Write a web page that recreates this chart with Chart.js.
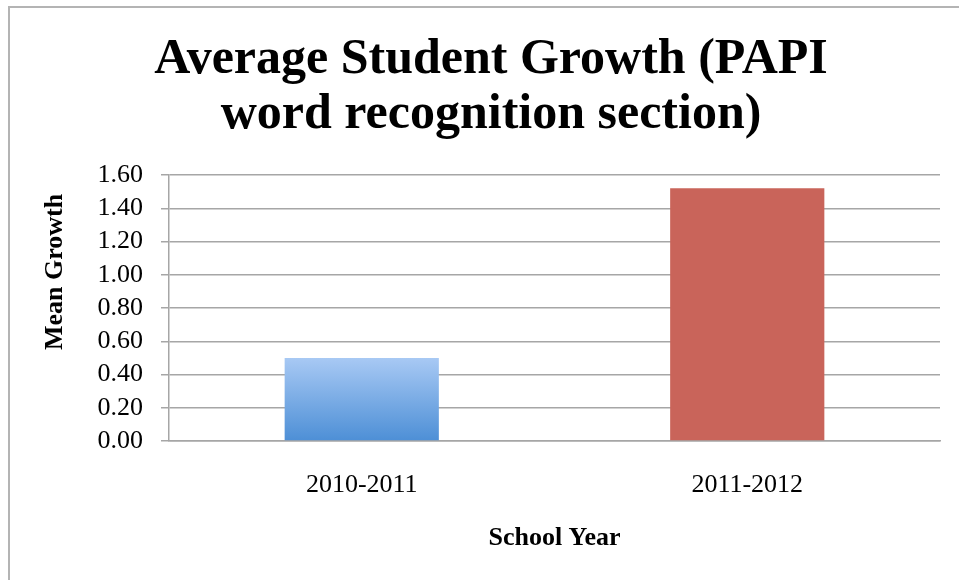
<!DOCTYPE html>
<html>
<head>
<meta charset="utf-8">
<script src="https://cdn.jsdelivr.net/npm/chart.js@4.4.1/dist/chart.umd.min.js"></script>
<style>
  html, body { margin: 0; padding: 0; background: #fff; overflow: hidden; }
  #wrap { position: relative; width: 959px; height: 580px; }
  #frame { position: absolute; left: 8px; top: 6px; width: 1000px; height: 600px;
           border-left: 2px solid #b4b4b4; border-top: 2px solid #b4b4b4; pointer-events: none; }
  canvas { position: absolute; left: 0; top: 0; }
</style>
</head>
<body>
<div id="wrap">
  <canvas id="c" width="959" height="580"></canvas>
  <div id="frame"></div>
</div>
<script>
const titleLines = ["Average Student Growth (PAPI", "word recognition section)"];
const categories = ["2010-2011", "2011-2012"];
const meanGrowth = [0.50, 1.52];
const yTickValues = [0.00, 0.20, 0.40, 0.60, 0.80, 1.00, 1.20, 1.40, 1.60];
const yAxisTitle = "Mean Growth";
const xAxisTitle = "School Year";

const SERIF = "'Liberation Serif', 'Times New Roman', serif";
const gridColor = '#a6a6a6';

function barColor(ctx) {
  const chart = ctx.chart;
  const area = chart.chartArea;
  if (ctx.dataIndex === 1) return '#c9645a';
  if (!area) return '#7fb0e8';
  const y = chart.scales.y;
  const top = y.getPixelForValue(meanGrowth[0]);
  const bottom = y.getPixelForValue(0);
  const g = chart.ctx.createLinearGradient(0, top, 0, bottom);
  g.addColorStop(0, '#a8c9f4');
  g.addColorStop(1, '#4d8fd6');
  return g;
}

// Draws the rotated y-axis title (real text) at the reference position
const yTitlePlugin = {
  id: 'yTitle',
  afterDraw(chart) {
    const c = chart.ctx;
    c.save();
    c.translate(55, 272);
    c.rotate(-Math.PI / 2);
    c.font = "bold 26px " + SERIF;
    c.fillStyle = '#000';
    c.textAlign = 'center';
    c.textBaseline = 'middle';
    c.fillText(yAxisTitle, 0, 0);
    c.restore();
  }
};

new Chart(document.getElementById('c'), {
  type: 'bar',
  data: {
    labels: categories,
    datasets: [{
      data: meanGrowth,
      backgroundColor: barColor,
      borderWidth: 0,
      categoryPercentage: 0.4,
      barPercentage: 1.0
    }]
  },
  plugins: [yTitlePlugin],
  options: {
    responsive: false,
    animation: false,
    devicePixelRatio: 1,
    layout: { padding: { left: 42, right: 19, top: 0, bottom: 0 } },
    plugins: {
      legend: { display: false },
      tooltip: { enabled: false },
      title: {
        display: true,
        text: titleLines,
        color: '#000',
        font: { family: SERIF, size: 50, weight: 'bold', lineHeight: 1.1 },
        padding: { top: 33, bottom: 32 }
      }
    },
    scales: {
      x: {
        afterFit: (s) => { s.height = 139; },
        grid: { display: false, drawTicks: false },
        border: { display: true, color: gridColor, width: 1.5 },
        ticks: { color: '#000', font: { family: SERIF, size: 26 }, padding: 29, maxRotation: 0 },
        title: {
          display: true, text: xAxisTitle, color: '#000',
          font: { family: SERIF, size: 26, weight: 'bold' },
          padding: { top: 18, bottom: 26 }
        }
      },
      y: {
        min: 0, max: 1.6,
        afterFit: (s) => { s.width = 127; },
        afterBuildTicks: (s) => { s.ticks = yTickValues.map(v => ({ value: v })); },
        grid: { color: gridColor, lineWidth: 1.5, tickLength: 8, drawTicks: true },
        border: { display: true, color: gridColor, width: 1.5 },
        ticks: {
          color: '#000', padding: 18, autoSkip: false,
          font: { family: SERIF, size: 26 },
          callback: (v) => Number(v).toFixed(2)
        },
        title: { display: false }
      }
    }
  }
});
</script>
</body>
</html>
